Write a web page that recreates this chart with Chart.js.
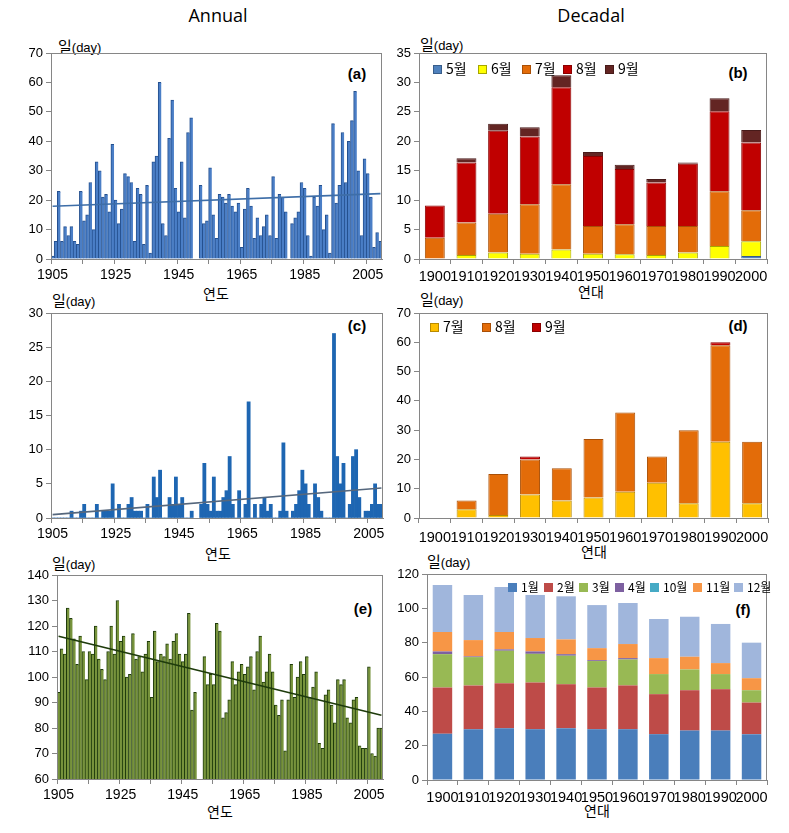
<!DOCTYPE html>
<html>
<head>
<meta charset="utf-8">
<script src="https://cdn.jsdelivr.net/npm/chart.js@4.4.0/dist/chart.umd.min.js"></script>
<style>
  body { margin: 0; background: #fff; width: 789px; height: 833px; position: relative; overflow: hidden;
         font-family: "Liberation Sans", "Noto Sans CJK KR", sans-serif; }
  canvas { position: absolute; }
  .t { position: absolute; white-space: nowrap; color: #000; transform: translate(-50%, -50%); line-height: 1; }
  .l { position: absolute; white-space: nowrap; color: #000; transform: translateY(-50%); line-height: 1; }
  .title { font-size: 18px; font-family: "Open Sans", "Liberation Sans", sans-serif; }
  .tag { font-weight: bold; font-size: 15px; }
  .unit { font-size: 13px; }
  .unit b { font-weight: normal; font-size: 15px; font-family: "Noto Sans CJK KR", sans-serif; }
  .ax { font-size: 14px; font-family: "Noto Sans CJK KR", sans-serif; }
  .cat { font-size: 14.5px; font-family: "Liberation Sans", sans-serif; z-index: 30; }
  .lg { position: absolute; white-space: nowrap; transform: translateY(-50%); line-height: 1;
        font-family: "Noto Sans CJK KR", sans-serif; z-index: 20; }
  .lg i { display: inline-block; width: 7px; height: 7px; margin-right: 4px; vertical-align: 0px; }
</style>
</head>
<body>

<div class="t title" style="left:218px; top:15px;">Annual</div>
<div class="t title" style="left:591px; top:15px;">Decadal</div>

<div class="l unit" style="left:58px; top:46px;"><b>일</b>(day)</div>
<div class="l unit" style="left:52px; top:300px;"><b>일</b>(day)</div>
<div class="l unit" style="left:52px; top:563px;"><b>일</b>(day)</div>
<div class="l unit" style="left:420px; top:44px;"><b>일</b>(day)</div>
<div class="l unit" style="left:420px; top:299px;"><b>일</b>(day)</div>
<div class="l unit" style="left:427px; top:561px;"><b>일</b>(day)</div>

<div class="t ax" style="left:216px; top:293px;">연도</div>
<div class="t ax" style="left:218px; top:553px;">연도</div>
<div class="t ax" style="left:220px; top:811px;">연도</div>
<div class="t ax" style="left:591px; top:291px;">연대</div>
<div class="t ax" style="left:594px; top:551px;">연대</div>
<div class="t ax" style="left:597px; top:810px;">연대</div>

<div class="t tag" style="left:357px; top:73px;">(a)</div>
<div class="t tag" style="left:738px; top:72px;">(b)</div>
<div class="t tag" style="left:357px; top:325px;">(c)</div>
<div class="t tag" style="left:738px; top:325px;">(d)</div>
<div class="t tag" style="left:363px; top:608px;">(e)</div>
<div class="t tag" style="left:743px; top:609px;">(f)</div>

<script>
// ---- data ----
// years 1905..2009 (annual panels)
const years = [];
for (let y = 1905; y <= 2009; y++) years.push(String(y));
const decades = ['1900', '1910', '1920', '1930', '1940', '1950', '1960', '1970', '1980', '1990', '2000'];

// (a) annual days
const daysA = [
  1, 6, 23, 6, 11, 8, 11, 6, 5, 23,
  13, 15, 26, 10, 33, 30, 21, 22, 16, 39,
  20, 12, 17, 29, 28, 26, 6, 24, 22, 5,
  25, 2, 33, 35, 60, 12, 8, 41, 54, 24,
  16, 33, 14, 43, 48, null, null, 25, 12, 13,
  31, 15, 7, 22, 21, 19, 22, 18, 16, 19,
  4, 17, 24, 18, 7, 14, 8, 11, 15, 8,
  28, 7, 22, 21, 16, 0, 12, 14, 16, 26,
  24, 8, 1, 21, 18, 25, 10, 15, 2, 46,
  19, 25, 43, 26, 40, 47, 57, 30, 8, 34,
  29, 21, 4, 9, 6
];
const trendA = [17.9, 22.2];

// (c) annual days
const daysC = [
  0, 0, 0, 0, 0, 0, 1, 0, 0, 1,
  2, 0, 0, 0, 2, 0, 1, 1, 1, 5,
  0, 2, 0, 0, 2, 3, 1, 1, 1, 0,
  2, 0, 6, 3, 7, 0, 0, 3, 2, 6,
  2, 3, 0, 0, 1, null, null, 2, 8, 2,
  1, 6, 1, 1, 3, 4, 9, 2, 0, 4,
  0, 2, 17, 0, 2, 0, 2, 3, 1, 2,
  0, 0, 1, 11, 1, 0, 1, 2, 4, 7,
  5, 2, 0, 5, 3, 1, 0, 0, 0, 27,
  9, 5, 8, 0, 2, 9, 10, 3, 0, 1,
  1, 2, 5, 2, 2
];
const trendC = [0.5, 4.4];

// (e) annual days
const daysE = [
  94, 111, 109, 127, 123, 115, 105, 116, 110, 99,
  110, 109, 120, 107, 103, 99, 110, 120, 109, 130,
  114, 116, 100, 101, 117, 107, 108, 102, 109, 114,
  92, 118, 106, 109, 108, 113, 107, 114, 117, 109,
  106, 109, 125, 87, 94, null, null, 108, 97, 101,
  97, 121, 118, 84, 86, 91, 106, 97, 102, 105,
  101, 104, 108, 95, 110, 116, 98, 102, 109, 102,
  89, 85, 91, 71, 91, 105, 92, 100, 106, 101,
  108, 92, 96, 102, 74, 72, 93, 95, 89, 82,
  99, 97, 99, 84, 82, 91, 92, 73, 72, 72,
  104, 70, 69, 80, 80
];
const trendE = [116, 85];

// (b) decadal by month
const b5 = [0, 0, 0, 0, 0, 0, 0, 0, 0, 0, 0.5];
const b6 = [0, 0.7, 1.1, 0.9, 1.6, 0.9, 0.8, 0.7, 1.1, 2.2, 2.5];
const b7 = [3.6, 5.5, 6.6, 8.4, 11.1, 4.7, 5.1, 4.9, 4.5, 9.3, 5.3];
const b8 = [5.5, 10.2, 14.1, 11.5, 16.5, 11.9, 9.4, 7.4, 10.6, 13.6, 11.5];
const b9 = [0, 0.7, 1.2, 1.6, 2.0, 0.7, 0.7, 0.6, 0.2, 2.2, 2.1];

// (d) decadal by month
const d7 = [0, 3, 1, 8, 6, 7, 9, 12, 5, 26, 5];
const d8 = [0, 3, 14, 12, 11, 20, 27, 9, 25, 33, 21];
const d9 = [0, 0, 0, 1, 0, 0, 0, 0, 0, 1, 0];

// (f) decadal by month
const f1 = [27.0, 29.6, 30.2, 29.6, 30.2, 29.6, 29.6, 26.7, 28.8, 28.8, 26.7];
const f2 = [26.9, 25.5, 26.2, 27.2, 25.6, 24.3, 25.5, 23.3, 23.5, 24.1, 18.4];
const f3 = [19.4, 16.5, 18.9, 16.7, 16.6, 15.4, 15.1, 11.7, 12.1, 8.8, 7.2];
const f4 = [1.6, 0.4, 0.8, 1.4, 0.9, 0.5, 0.8, 0, 0, 0, 0];
const f10 = [0, 0, 0, 0, 0, 0, 0, 0, 0, 0, 0];
const f11 = [11.3, 9.5, 10.1, 7.8, 8.6, 7.0, 8.2, 9.3, 7.4, 6.4, 7.0];
const f12 = [27.4, 26.3, 26.3, 25.1, 25.1, 25.1, 23.9, 22.8, 23.3, 22.8, 20.7];

// ---- helpers ----
const axisGrey = '#868686';
const fontFamily = '"Liberation Sans", "Noto Sans CJK KR", sans-serif';

// рамка вокруг области графика
const boxPlugin = {
  id: 'box',
  afterDraw(chart) {
    let a = chart.chartArea, c = chart.ctx;
    c.save();
    c.strokeStyle = axisGrey;
    c.lineWidth = 1;
    c.strokeRect(Math.round(a.left) + 0.5, Math.round(a.top) + 0.5,
      Math.round(a.right - a.left) - 1, Math.round(a.bottom - a.top));
    c.restore();
  }
};

let zIdx = 1;
let makeCanvas = function (rect) {
  let cv = document.createElement('canvas');
  cv.width = rect.w;
  cv.height = rect.h;
  cv.style.left = rect.x + 'px';
  cv.style.top = rect.y + 'px';
  cv.style.width = rect.w + 'px';
  cv.style.height = rect.h + 'px';
  cv.style.zIndex = rect.z || zIdx++;
  document.body.appendChild(cv);
  return cv.getContext('2d');
};

let trendData = function (ends, n) {
  let arr = new Array(n).fill(null);
  arr[0] = ends[0];
  arr[n - 1] = ends[1];
  return arr;
};

let baseOptions = function (rect, area, yMin, yMax, step, xScale, stacked) {
  return {
    responsive: false,
    animation: false,
    devicePixelRatio: 1,
    layout: { padding: { top: area.top - rect.y, right: rect.x + rect.w - area.right, left: 0, bottom: 0 } },
    plugins: { legend: { display: false }, tooltip: { enabled: false } },
    scales: {
      x: {
        stacked: stacked,
        ticks: xScale.ticks,
        grid: xScale.grid,
        border: { color: axisGrey },
        afterFit: function (s) { s.height = rect.y + rect.h - area.bottom; }
      },
      y: {
        stacked: stacked,
        min: yMin, max: yMax,
        ticks: { stepSize: step, font: { family: fontFamily, size: 13 }, color: '#000', padding: 3 },
        grid: { drawOnChartArea: false, tickLength: 5, color: axisGrey },
        border: { color: axisGrey },
        afterFit: function (s) { s.width = area.left - rect.x; }
      }
    }
  };
};

let annualX = function () {
  return {
    ticks: {
      autoSkip: false, maxRotation: 0, minRotation: 0, font: { family: fontFamily, size: 14 }, color: '#000', padding: 3,
      callback: function (v, i) { return i % 20 === 0 ? this.getLabelForValue(v) : ''; }
    },
    grid: { drawOnChartArea: false, tickLength: 5, color: function (c) { return c.index % 10 === 0 ? axisGrey : 'rgba(0,0,0,0)'; } }
  };
};

let decadeX = function (ownLabels) {
  return {
    ticks: { display: !ownLabels, autoSkip: false, maxRotation: 0, minRotation: 0, font: { family: fontFamily, size: 14.5 }, color: '#000', padding: 4 },
    grid: { drawOnChartArea: false, tickLength: 5, color: axisGrey }
  };
};

let annualChart = function (rect, area, values, trend, yMin, yMax, step, fill, border, bw, lineColor) {
  let ctx = makeCanvas(rect);
  return new Chart(ctx, {
    type: 'bar',
    data: {
      labels: years,
      datasets: [
        {
          type: 'line', data: trendData(trend, years.length), borderColor: lineColor, borderWidth: 1.6,
          pointRadius: 0, spanGaps: true, order: 0, tension: 0
        },
        {
          data: values, backgroundColor: fill, borderColor: border, borderWidth: bw,
          categoryPercentage: 1, barPercentage: 1, order: 1
        }
      ]
    },
    options: baseOptions(rect, area, yMin, yMax, step, annualX(), false),
    plugins: [boxPlugin]
  });
};

let decadeChart = function (rect, area, series, yMax, step, ownLabels) {
  let ctx = makeCanvas(rect);
  let chart = new Chart(ctx, {
    type: 'bar',
    data: {
      labels: decades,
      datasets: series.map(function (s) {
        return {
          label: s.name, data: s.data, backgroundColor: s.color, borderColor: s.line || 'rgba(0,0,0,0)',
          borderWidth: s.line ? 1 : 0, categoryPercentage: 1, barPercentage: 0.63
        };
      })
    },
    options: baseOptions(rect, area, 0, yMax, step, decadeX(ownLabels), true),
    plugins: [boxPlugin]
  });
  // подписи категорий поверх всего, по позициям шкалы
  if (ownLabels) {
    decades.forEach(function (lab, i) {
      let d = document.createElement('div');
      d.className = 't cat';
      d.style.left = (rect.x + chart.scales.x.getPixelForValue(i)) + 'px';
      d.style.top = (area.bottom + 19) + 'px';
      d.textContent = lab;
      document.body.appendChild(d);
    });
  }
  return chart;
};

// ---- panels ----
annualChart({ x: 0, y: 28, w: 395, h: 282 }, { left: 51, top: 53, right: 382, bottom: 259 },
  daysA, trendA, 0, 70, 10, '#4A7EC6', '#24508F', { top: 1, left: 1, right: 0, bottom: 0 }, '#3E6EA8');

annualChart({ x: 0, y: 290, w: 395, h: 275 }, { left: 51, top: 313, right: 383, bottom: 518 },
  daysC, trendC, 0, 30, 5, '#1E66B2', '#1E66B2', 0, '#55677D');

annualChart({ x: 0, y: 550, w: 395, h: 283 }, { left: 57, top: 575, right: 383, bottom: 779 },
  daysE, trendE, 60, 140, 10, '#77933C', '#1E3B0B', { top: 1, left: 1, right: 0, bottom: 0 }, '#1E3B0B');

let seriesB = [
  { name: '5월', data: b5, color: '#4F81BD', line: '#385D8A' },
  { name: '6월', data: b6, color: '#FFFF00', line: '#A6A600' },
  { name: '7월', data: b7, color: '#E36C09', line: '#A94F06' },
  { name: '8월', data: b8, color: '#C00000', line: '#8A0000' },
  { name: '9월', data: b9, color: '#632523', line: '#471A19' }
];
decadeChart({ x: 385, y: 28, w: 404, h: 282 }, { left: 419, top: 53, right: 767, bottom: 259 }, seriesB, 35, 5, false);

let seriesF = [
  { name: '1월', data: f1, color: '#4A7EBB' },
  { name: '2월', data: f2, color: '#BE4B48' },
  { name: '3월', data: f3, color: '#98B954' },
  { name: '4월', data: f4, color: '#7D60A0' },
  { name: '10월', data: f10, color: '#46AAC5' },
  { name: '11월', data: f11, color: '#F79646' },
  { name: '12월', data: f12, color: '#A0B6DC' }
];
decadeChart({ x: 385, y: 550, w: 404, h: 283 }, { left: 427, top: 574, right: 767, bottom: 780 }, seriesF, 120, 20, false);

let seriesD = [
  { name: '7월', data: d7, color: '#FFC000', line: '#B88A00' },
  { name: '8월', data: d8, color: '#E36C09', line: '#A94F06' },
  { name: '9월', data: d9, color: '#C00000', line: '#8A0000' }
];
decadeChart({ x: 385, y: 290, w: 404, h: 256, z: 15 }, { left: 419, top: 313, right: 768, bottom: 518 }, seriesD, 70, 10, true);

// ---- legends (html) ----
let legend = function (series, xs, y, size) {
  series.forEach(function (s, i) {
    let d = document.createElement('div');
    d.className = 'lg';
    d.style.left = xs[i] + 'px';
    d.style.top = y + 'px';
    d.style.fontSize = size + 'px';
    d.innerHTML = '<i style="background:' + s.color + ';border:0.5px solid ' + (s.line || s.color) + '"></i>' + s.name;
    document.body.appendChild(d);
  });
};
legend(seriesB, [433, 478, 522, 563, 605], 68, 14);
legend(seriesD, [430, 482, 532], 326, 14);
legend(seriesF, [508, 544, 579, 615, 650, 693, 734], 587, 12);
</script>
</body>
</html>
